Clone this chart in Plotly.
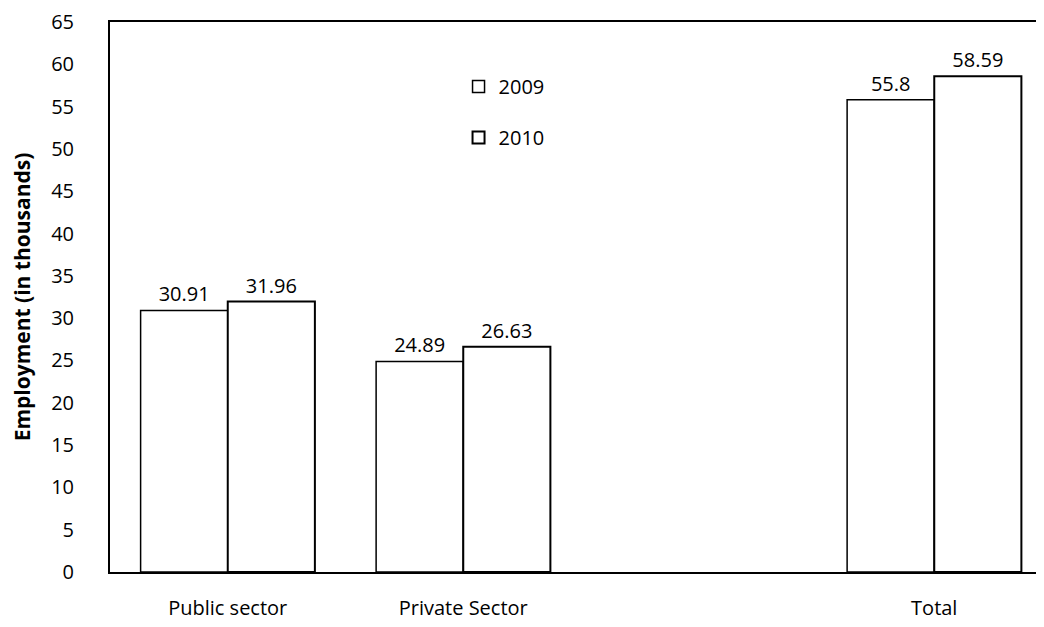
import plotly.graph_objects as go

# categories (the blank one keeps the gap before "Total")
sectors = ["Public sector", "Private Sector", " ", "Total"]
emp_2009 = [30.91, 24.89, None, 55.8]
emp_2010 = [31.96, 26.63, None, 58.59]
year_names = ["2009", "2010"]
y_ticks = list(range(0, 70, 5))

font_family = "Open Sans, Liberation Sans, sans-serif"

fig = go.Figure()
fig.add_trace(go.Bar(x=sectors, y=emp_2009, name=year_names[0], legendgroup="a",
	marker=dict(color="white", line=dict(color="black", width=1.5)),
	text=[str(v) if v is not None else "" for v in emp_2009],
	textposition="outside", cliponaxis=False,
	textfont=dict(size=20, color="black")))
fig.add_trace(go.Bar(x=sectors, y=emp_2010, name=year_names[1], legendgroup="b",
	marker=dict(color="white", line=dict(color="black", width=2)),
	text=[str(v) if v is not None else "" for v in emp_2010],
	textposition="outside", cliponaxis=False,
	textfont=dict(size=20, color="black")))

fig.update_layout(
	width=1044, height=627,
	margin=dict(l=102, r=0, t=11, b=63),
	paper_bgcolor="white", plot_bgcolor="white",
	font=dict(family=font_family, size=20, color="black"),
	barmode="group", bargap=0.26, bargroupgap=0,
	showlegend=True,
	legend=dict(x=0.37, y=0.918, xanchor="left", yanchor="top",
		traceorder="grouped", tracegroupgap=22,
		font=dict(size=20), bgcolor="rgba(0,0,0,0)"),
)
fig.update_xaxes(showline=True, linecolor="black", linewidth=1.5, mirror=True,
	showgrid=False, ticks="", tickfont=dict(size=20), ticklabelstandoff=17)
fig.update_yaxes(range=[0, 65], tickvals=y_ticks, showgrid=False, zeroline=False,
	showline=True, linecolor="black", linewidth=2, ticks="",
	tickfont=dict(size=20), ticklabelstandoff=30, ticklabeloverflow="allow",
	title=dict(text="<b>Employment (in thousands)</b>", font=dict(size=21), standoff=16))

fig.write_html("out.html")
